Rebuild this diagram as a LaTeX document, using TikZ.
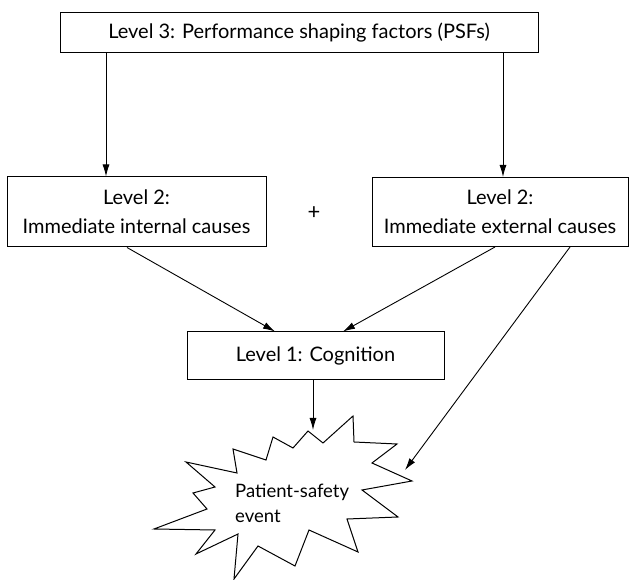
\documentclass[tikz,border=0pt]{standalone}
\usepackage{fontspec}
\setmainfont{Lato}
\usetikzlibrary{arrows.meta,calc}
\begin{document}
\begin{tikzpicture}[x=1pt,y=1pt,
  box/.style={draw,line width=1pt,minimum height=#1,inner sep=0pt,align=center,font=\fontsize{20}{29}\selectfont},
  arr/.style={line width=0.9pt,-{Latex[length=12pt,width=7pt]}},
  lbl/.style={font=\fontsize{20}{24}\selectfont}]
\useasboundingbox (0,0) rectangle (629,580);
\node[box=40pt,minimum width=478pt] (top) at (299,547) {Level 3: Performance shaping factors (PSFs)};
\node[box=70pt,minimum width=259pt] (left) at (136.5,368) {Level 2:\\Immediate internal causes};
\node[box=69pt,minimum width=256pt] (right) at (500,368) {Level 2:\\Immediate external causes};
\node[lbl,font=\fontsize{22}{24}\selectfont] (plus) at (314,367) {+};
\node[box=48pt,minimum width=257pt] (cog) at (315.5,224) {Level 1: Cognition};
% starburst
\draw[line width=1pt,line join=miter]
 (353,164) -- (354,138) -- (397,136) -- (372,117) -- (412,99) -- (362,90) -- (398,63) -- (347,61)
 -- (358,28) -- (309,50) -- (295,14) -- (258,34) -- (234,1) -- (238,46) -- (196,26) -- (215,50)
 -- (154,51) -- (207,71) -- (193,87) -- (215,93) -- (186,118) -- (237,107) -- (233,131) -- (266,120)
 -- (273,143) -- (293,132) -- (308,149) -- (323,137) -- cycle;
\node[align=left,anchor=north west,inner sep=0pt,font=\fontsize{18.5}{25}\selectfont] (ev) at (235,96) {Patient-safety\\event};
\coordinate (xa) at (106,0);
\coordinate (xb) at (503,0);
\coordinate (starTop) at (313,150);
\coordinate (starRight) at (405,110);
\draw[arr] (top.south -| xa) -- (left.north -| xa);
\draw[arr] (top.south -| xb) -- (right.north -| xb);
\draw[arr] ($(left.south)+(-9.5,0)$) -- ($(cog.north)+(-40.5,0)$);
\draw[arr] ($(right.south)+(-5,0)$) -- ($(cog.north)+(27.5,0)$);
\draw[arr] ($(right.south)+(70,0)$) -- (starRight);
\draw[arr] (cog.south -| starTop) -- (starTop);
\end{tikzpicture}
\end{document}
